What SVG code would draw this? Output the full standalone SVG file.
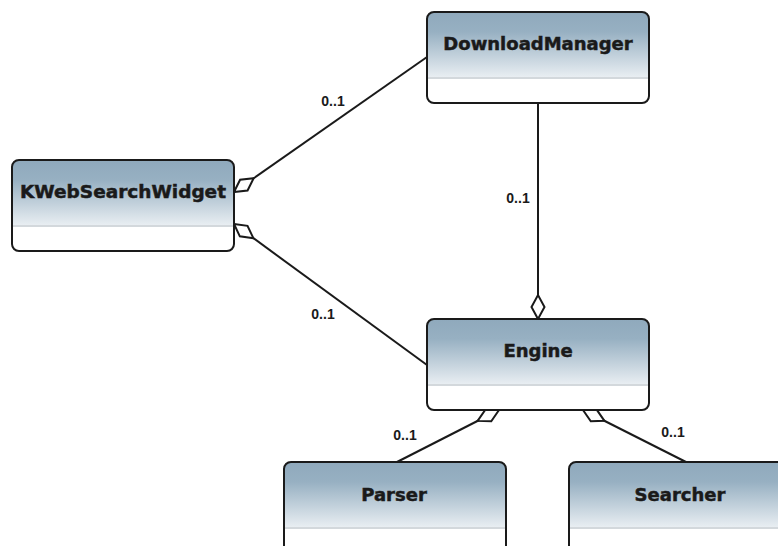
<svg xmlns="http://www.w3.org/2000/svg" xmlns:xlink="http://www.w3.org/1999/xlink" width="778" height="546" viewBox="0 0 778 546">
<style>
.name{font-family:"DejaVu Sans","Liberation Sans",sans-serif;font-weight:bold;font-size:18px;fill:#1a1a1a;stroke:#1a1a1a;stroke-width:0.5;text-anchor:middle}
.mult{font-family:"Liberation Sans",Arial,sans-serif;font-weight:bold;font-size:14px;fill:#1a1a1a;text-anchor:middle}
.conn{stroke:#1a1a1a;stroke-width:2;fill:none;marker-start:url(#diamond)}
.frame{fill:none;stroke:#1a1a1a;stroke-width:2}
</style>
<defs>
<linearGradient id="hdr" x1="0" y1="0" x2="0" y2="1">
<stop offset="0" stop-color="#8FA9BC"/>
<stop offset="0.3" stop-color="#97B0C2"/>
<stop offset="1" stop-color="#EAEFF3"/>
</linearGradient>
<marker id="diamond" markerUnits="userSpaceOnUse" viewBox="-2 -9 28 18" refX="0" refY="0" markerWidth="28" markerHeight="18" orient="auto" overflow="visible">
<path d="M0,0 L12,-6.5 L24,0 L12,6.5 Z" fill="#fff" stroke="#1a1a1a" stroke-width="2" stroke-linejoin="miter"/>
</marker>
<g id="box">
<rect x="0" y="0" width="222" height="91" rx="7" fill="#fff"/>
<path d="M0,66 V7 Q0,0 7,0 H215 Q222,0 222,7 V66 Z" fill="url(#hdr)"/>
<rect x="1" y="65" width="220" height="2" fill="#D3D8DC"/>
<rect x="0" y="0" width="222" height="91" rx="7" class="frame"/>
</g>
</defs>
<rect width="778" height="546" fill="#fff"/>
<g id="connectors">
<line class="conn" x1="234" y1="192" x2="427" y2="57"/>
<line class="conn" x1="234" y1="224" x2="427" y2="365"/>
<line class="conn" x1="538" y1="319" x2="538" y2="102"/>
<line class="conn" x1="499" y1="410" x2="397" y2="462"/>
<line class="conn" x1="583" y1="410" x2="686" y2="462"/>
<text class="mult" x="333" y="106">0..1</text>
<text class="mult" x="518" y="203">0..1</text>
<text class="mult" x="323" y="319">0..1</text>
<text class="mult" x="405" y="440">0..1</text>
<text class="mult" x="673" y="437">0..1</text>
</g>
<g id="DownloadManager">
<use xlink:href="#box" x="427" y="12"/>
<text class="name" x="538" y="50">DownloadManager</text>
</g>
<g id="KWebSearchWidget">
<use xlink:href="#box" x="12" y="160"/>
<text class="name" x="123" y="198" textLength="206" lengthAdjust="spacingAndGlyphs">KWebSearchWidget</text>
</g>
<g id="Engine">
<use xlink:href="#box" x="427" y="319"/>
<text class="name" x="538" y="357">Engine</text>
</g>
<g id="Parser">
<use xlink:href="#box" x="284" y="462"/>
<text class="name" x="394" y="501">Parser</text>
</g>
<g id="Searcher">
<use xlink:href="#box" x="569" y="462"/>
<text class="name" x="680" y="501">Searcher</text>
</g>
</svg>
